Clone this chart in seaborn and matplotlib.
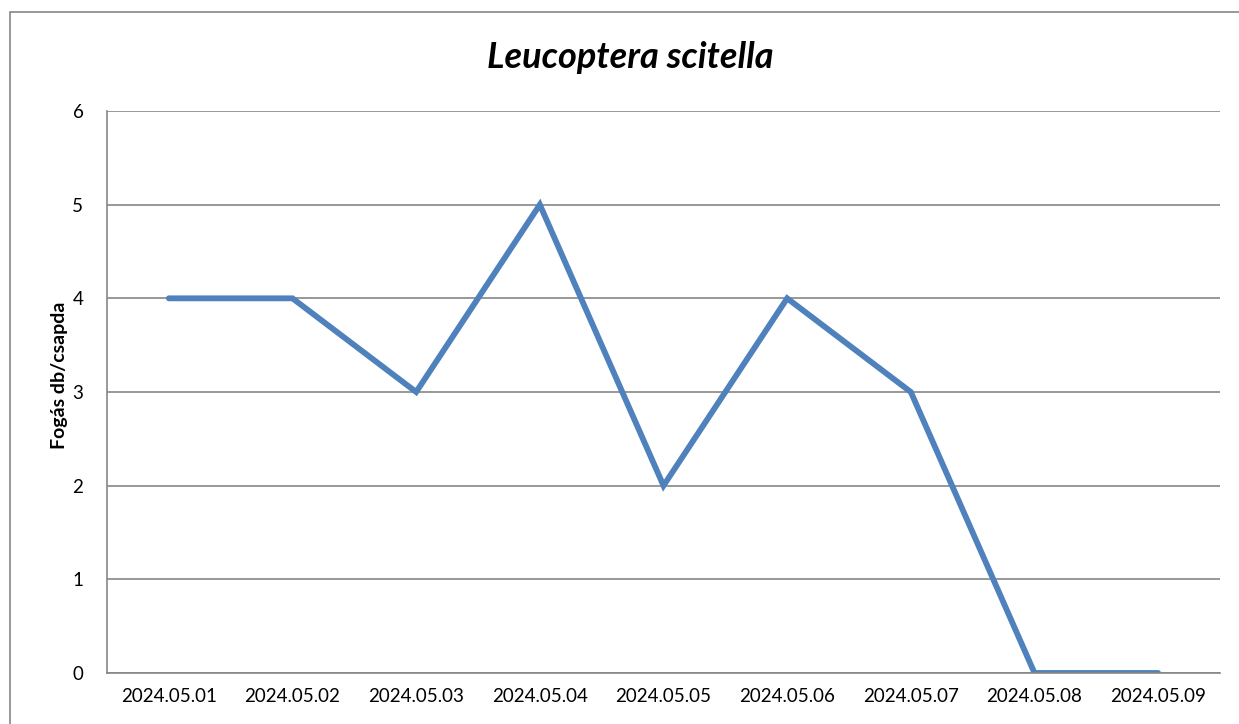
import matplotlib
matplotlib.use("Agg")
import matplotlib.pyplot as plt
import seaborn as sns
import pandas as pd
from matplotlib.patches import Rectangle

dates = ["2024.05.01", "2024.05.02", "2024.05.03", "2024.05.04", "2024.05.05",
         "2024.05.06", "2024.05.07", "2024.05.08", "2024.05.09"]
catches = [4, 4, 3, 5, 2, 4, 3, 0, 0]
y_ticks = [0, 1, 2, 3, 4, 5, 6]

sns.set_theme(style="white")
plt.rcParams['font.family'] = ['Lato', 'DejaVu Sans']
plt.rcParams['text.color'] = 'black'

df = pd.DataFrame({"date": dates, "catch": catches, "x": range(len(dates))})

fig = plt.figure(figsize=(12.39, 7.24), dpi=100)
W, H = 1239, 724
ax = fig.add_axes([107 / W, 1 - 673 / H, (1220 - 107) / W, (673 - 111) / H])

sns.lineplot(data=df, x="x", y="catch", ax=ax, color="#4F81BD", linewidth=4.2,
             solid_capstyle="round", solid_joinstyle="miter")

ax.set_xlim(-0.5, len(dates) - 0.5)
ax.set_ylim(0, 6)
ax.set_yticks(y_ticks)
ax.set_yticklabels([str(v) for v in y_ticks], fontsize=13.5)
ax.set_xticks(range(len(dates)))
ax.set_xticklabels(dates, fontsize=13.5)
ax.tick_params(axis="x", length=0, pad=11, colors="black")
ax.tick_params(axis="y", length=0, pad=17, colors="black")
ax.yaxis.grid(True, color="#868686", linewidth=1.2)
ax.set_axisbelow(True)
for s in ["top", "right"]:
    ax.spines[s].set_visible(False)
for s in ["left", "bottom"]:
    ax.spines[s].set_color("#868686")
    ax.spines[s].set_linewidth(1.2)
ax.set_xlabel("")
ax.set_ylabel("")
fig.text(60 / W, 1 - 375 / H, "Fogás db/csapda", fontsize=14, fontweight="bold",
         rotation=90, ha="center", va="center", color="black")

fig.text(630 / W, 1 - 57 / H, "Leucoptera scitella", fontsize=26, fontweight="bold",
         fontstyle="italic", ha="center", va="center", color="black")

fig.patches.append(Rectangle((10 / W, -0.05), 1.2, 1 - 12 / H + 0.05, transform=fig.transFigure,
                             fill=False, edgecolor="#868686", linewidth=1.2))

fig.savefig("out.png", dpi=100)
